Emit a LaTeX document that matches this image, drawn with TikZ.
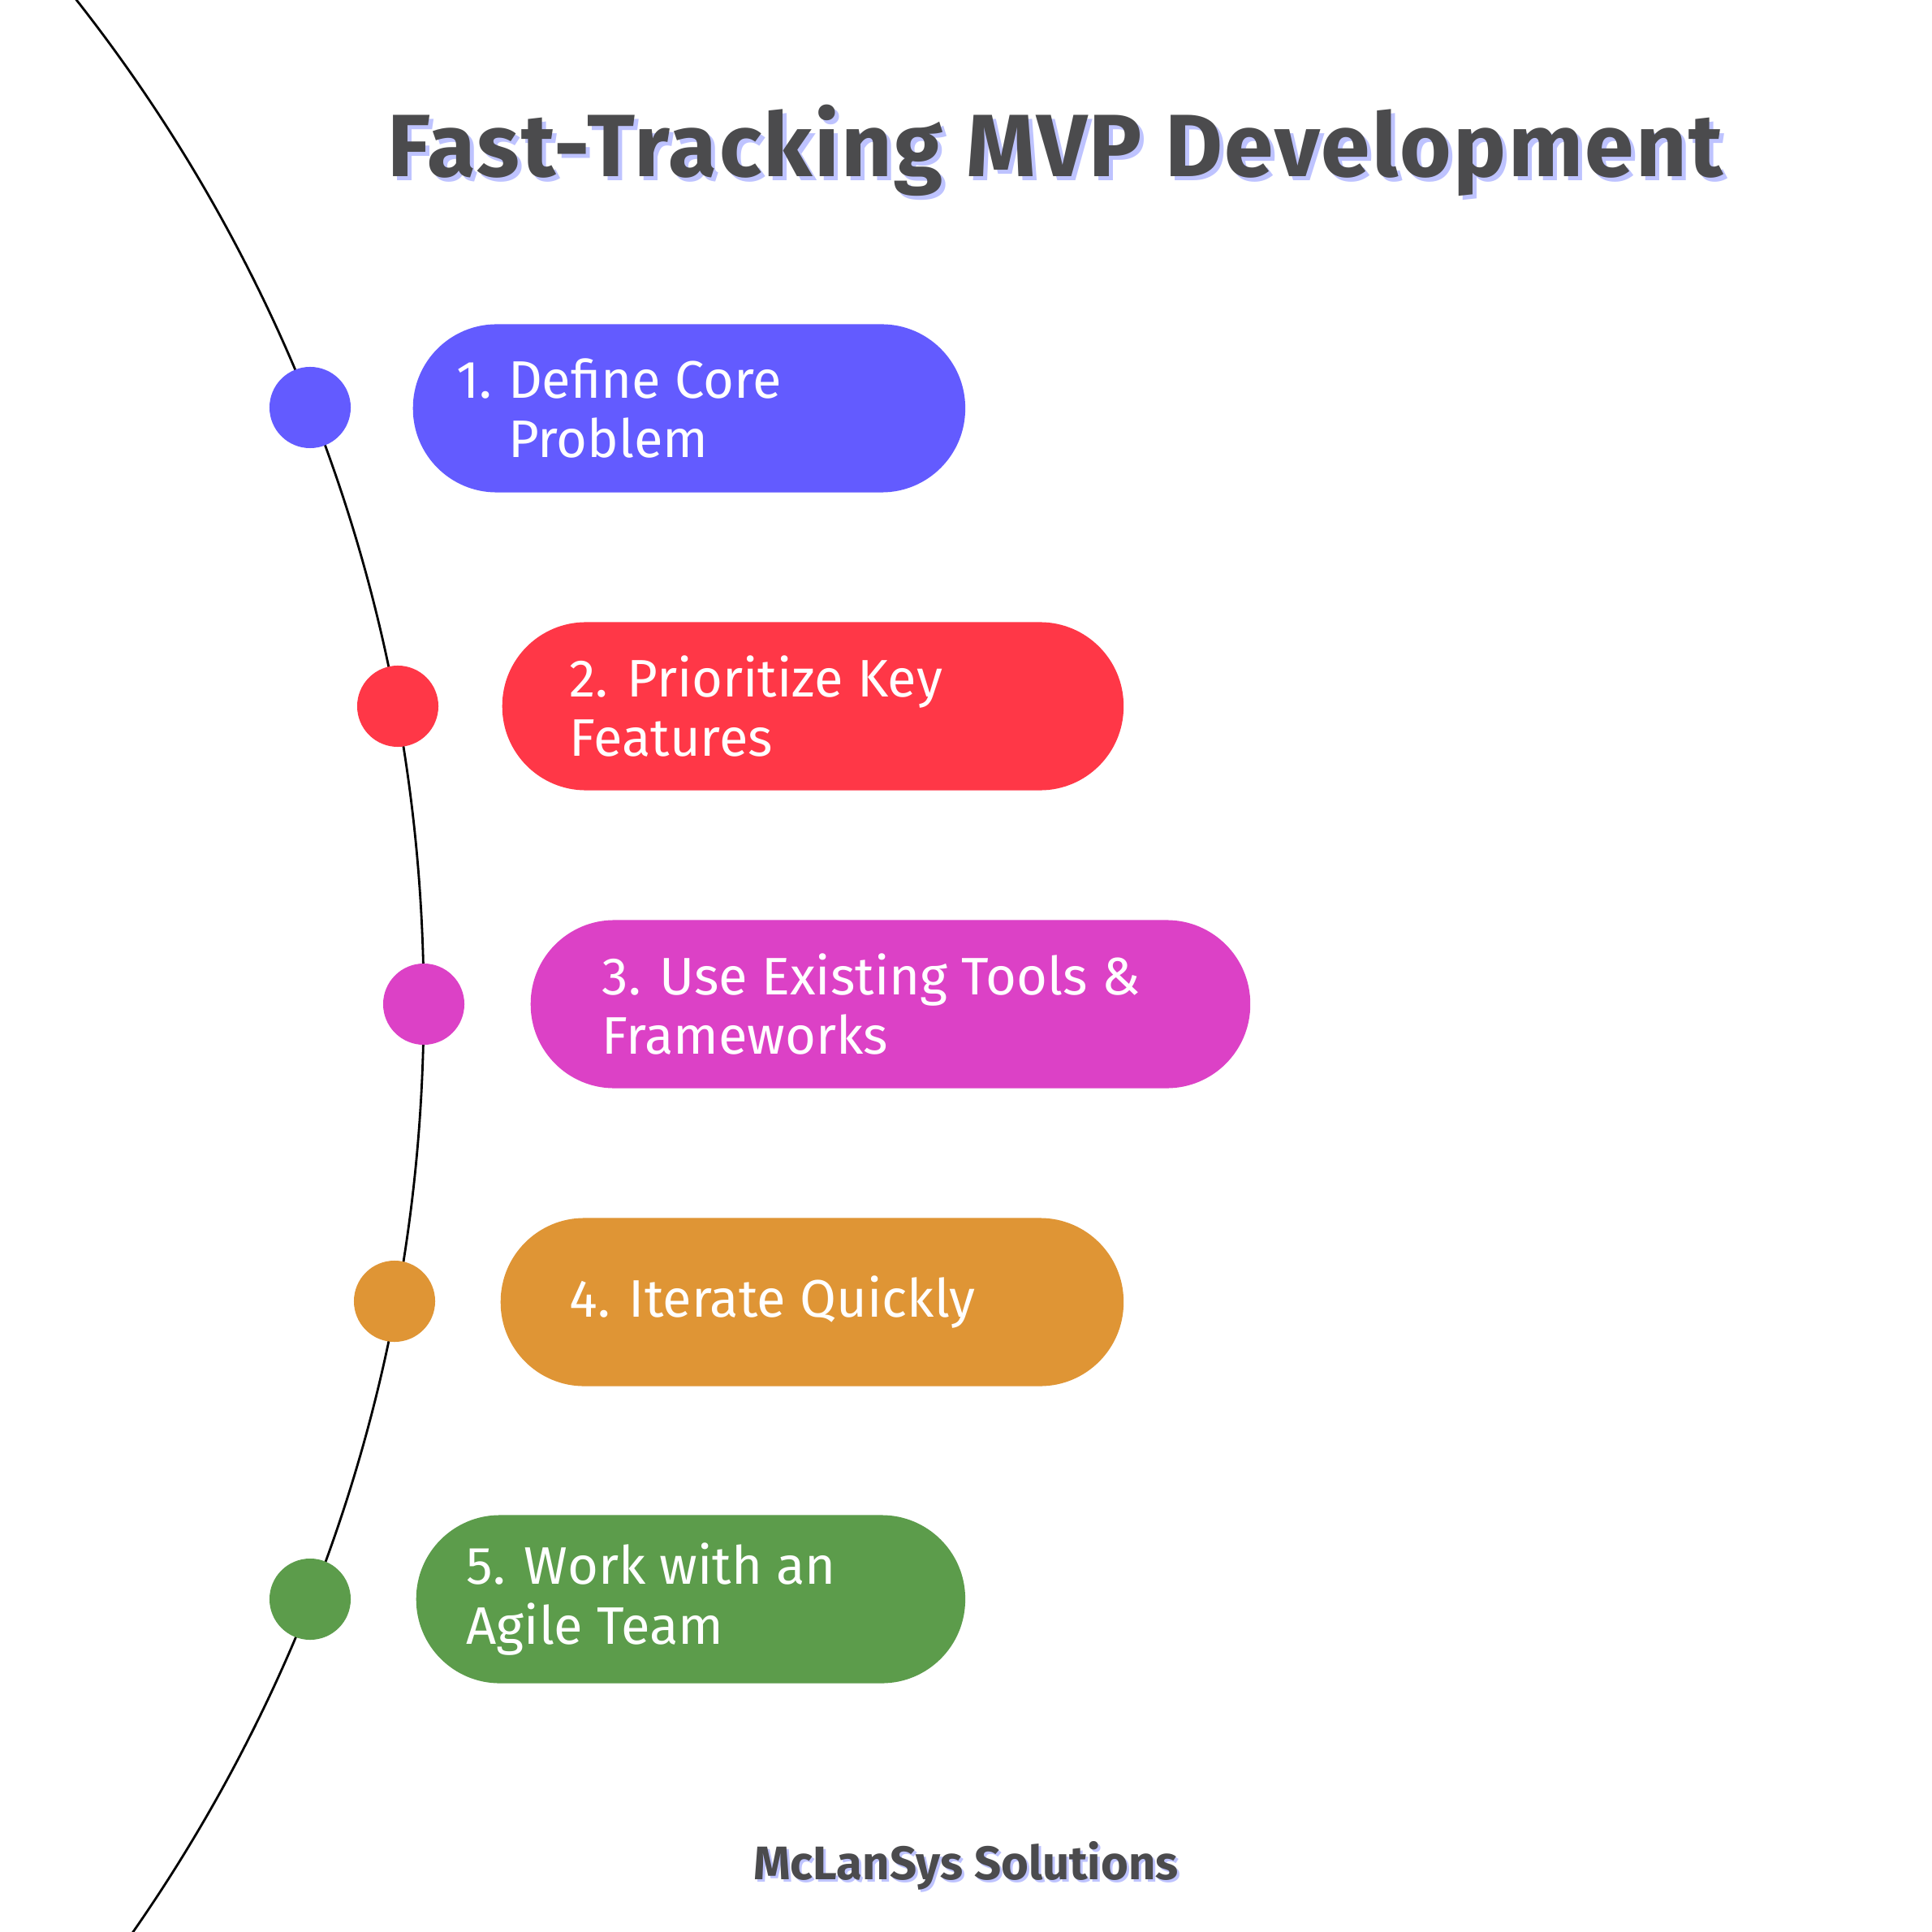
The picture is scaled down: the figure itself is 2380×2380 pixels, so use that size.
\documentclass[tikz,border=0pt]{standalone}
\usepackage{fontspec}
\setmainfont{Fira Sans}
\newfontfamily\stepfont{Fira Sans}
\newfontfamily\headfont[LetterSpace=2.2]{Fira Sans}
\usetikzlibrary{positioning}
\definecolor{mvpInk}{HTML}{4B4B4D}
\definecolor{mvpShadow}{HTML}{BEC3FF}
\definecolor{mvpBlue}{HTML}{635BFF}
\definecolor{mvpRed}{HTML}{FF3747}
\definecolor{mvpPink}{HTML}{DC41C6}
\definecolor{mvpOrange}{HTML}{DF9535}
\definecolor{mvpGreen}{HTML}{5C9C4B}

\begin{document}
\begin{tikzpicture}[x=0.01cm, y=-0.01cm,
  dot/.style={circle, minimum size=1cm, inner sep=0pt},
  pill/.style={rounded corners=1.03cm, minimum height=2.07cm, inner sep=0pt, anchor=west},
  steptext/.style={anchor=west, text=white, align=left, inner sep=0pt, font=\stepfont\fontsize{18.5}{20.8}\selectfont},
  ttl/.style={font=\headfont\bfseries\fontsize{31}{31}\selectfont, inner sep=0pt, anchor=base},
  foot/.style={font=\bfseries\fontsize{16.5}{16.5}\selectfont, inner sep=0pt, anchor=base},
]
% ---- canvas ----
\fill[white] (0,0) rectangle (2380,2380);
\useasboundingbox (0,0) rectangle (2380,2380);
% ---- timeline arc ----
\begin{scope}
  \clip (0,0) rectangle (2380,2380);
  \draw[black, line width=0.8pt] (-1480,1237) circle[radius=2002];
\end{scope}
% ---- title ----
\node[ttl, text=mvpShadow] (titleshadow) at (1305,223){Fast-Tracking MVP Development};
\node[ttl, text=mvpInk] (title) at (1300,218){Fast-Tracking MVP Development};
% ---- dots on the arc ----
\foreach \n/\x/\y/\col in {1/382/502/mvpBlue, 2/490/870/mvpRed, 3/522/1237/mvpPink, 4/486/1603/mvpOrange, 5/382/1970/mvpGreen}{
  \node[dot, fill=\col] (d\n) at (\x,\y){};
}
% ---- pills ----
\node[pill, fill=mvpBlue, minimum width=6.80cm] (p1) at (508,503){};
\node[pill, fill=mvpRed, minimum width=7.65cm] (p2) at (618,870){};
\node[pill, fill=mvpPink, minimum width=8.86cm] (p3) at (653,1237){};
\node[pill, fill=mvpOrange, minimum width=7.67cm] (p4) at (616,1604){};
\node[pill, fill=mvpGreen, minimum width=6.76cm] (p5) at (512,1970){};
% ---- step texts ----
\node[steptext] (t1) at (562,503){1.\hspace{0.3em}Define Core\\\hphantom{1.\hspace{0.3em}}Problem};
\node[steptext] (t2) at (701,870){2. Prioritize Key\\Features};
\node[steptext] (t3) at (741,1237){3. Use Existing Tools \&\\Frameworks};
\node[steptext] (t4) at (701,1604){4. Iterate Quickly};
\node[steptext] (t5) at (574,1970){5. Work with an\\Agile Team};
% ---- footer ----
\node[foot, text=mvpShadow] (footshadow) at (1193,2318){McLanSys Solutions};
\node[foot, text=mvpInk] (footer) at (1190,2315){McLanSys Solutions};
\end{tikzpicture}
\end{document}
